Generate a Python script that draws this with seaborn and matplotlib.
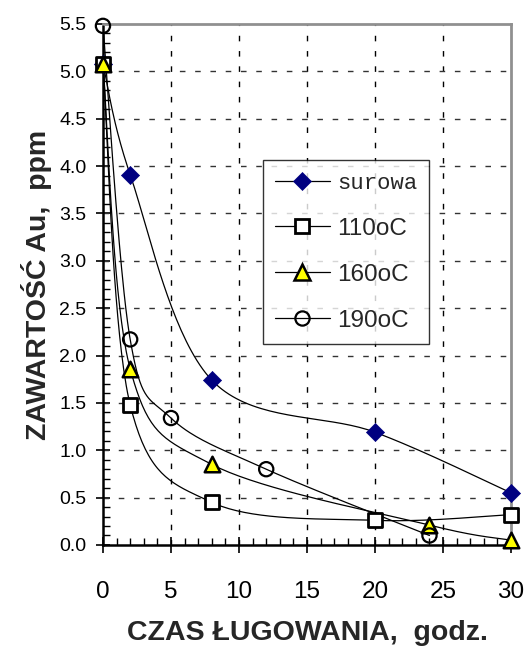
import numpy as np
import pandas as pd
import matplotlib
matplotlib.use("Agg")
import matplotlib.pyplot as plt
import seaborn as sns
from matplotlib.lines import Line2D
from matplotlib.ticker import MultipleLocator

# ---- data ----
x_surowa = [0, 2, 8, 20, 30]
y_surowa = [5.08, 3.91, 1.74, 1.19, 0.55]
x_110 = [0, 2, 8, 20, 30]
y_110 = [5.08, 1.48, 0.45, 0.26, 0.32]
x_160 = [0, 2, 8, 24, 30]
y_160 = [5.08, 1.86, 0.85, 0.21, 0.05]
x_190 = [0, 2, 5, 12, 24]
y_190 = [5.48, 2.17, 1.34, 0.80, 0.10]
labels = ["surowa", "110oC", "160oC", "190oC"]
x_ticks = [0, 5, 10, 15, 20, 25, 30]
y_ticks = [0.0, 0.5, 1.0, 1.5, 2.0, 2.5, 3.0, 3.5, 4.0, 4.5, 5.0, 5.5]

series = [
    (x_surowa, y_surowa, dict(marker="D", s=85, color="#000080", edgecolor="#000080", linewidth=0.5)),
    (x_110, y_110, dict(marker="s", s=110, color="white", edgecolor="black", linewidth=2)),
    (x_160, y_160, dict(marker="^", s=125, color="#FFFF00", edgecolor="black", linewidth=1.8)),
    (x_190, y_190, dict(marker="o", s=105, color="none", edgecolor="black", linewidth=1.6)),
]


def smooth(xs, ys, sx=408 / 30, sy=521 / 5.5, n=40):
    # Bezier (Catmull-Rom style) smoothing in screen-like coordinates, as a spreadsheet chart does
    P = np.column_stack([np.asarray(xs, float) * sx, np.asarray(ys, float) * sy])
    out = []
    m = len(P)
    for i in range(m - 1):
        p0 = P[i - 1] if i > 0 else P[i]
        p1, p2 = P[i], P[i + 1]
        p3 = P[i + 2] if i + 2 < m else P[i + 1]
        c1 = p1 + (p2 - p0) / 6.0
        c2 = p2 - (p3 - p1) / 6.0
        t = np.linspace(0, 1, n)[:, None]
        seg = ((1 - t) ** 3) * p1 + 3 * ((1 - t) ** 2) * t * c1 + 3 * (1 - t) * t ** 2 * c2 + t ** 3 * p2
        out.append(seg if i == 0 else seg[1:])
    C = np.vstack(out)
    return C[:, 0] / sx, C[:, 1] / sy


sns.set_style("white")
plt.rcParams["font.family"] = ["Liberation Sans", "DejaVu Sans"]

fig = plt.figure(figsize=(5.28, 6.48), dpi=100)
ax = fig.add_axes([0.195, 0.159, 0.773, 0.804])

for xs, ys, kw in series:
    cx, cy = smooth(xs, ys)
    df_line = pd.DataFrame({"x": cx, "y": cy})
    sns.lineplot(data=df_line, x="x", y="y", ax=ax, color="black", linewidth=0.9,
                 sort=False, estimator=None, zorder=3)
for xs, ys, kw in series:
    df_pts = pd.DataFrame({"x": xs, "y": ys})
    sns.scatterplot(data=df_pts, x="x", y="y", ax=ax, zorder=5, clip_on=False, **kw)

ax.set_xlim(0, 30)
ax.set_ylim(0, 5.5)
ax.set_xticks(x_ticks)
ax.set_yticks(y_ticks)
ax.set_xticklabels([str(v) for v in x_ticks], fontsize=17.5)
ax.set_yticklabels([f"{v:.1f}" for v in y_ticks], fontsize=14)
ax.xaxis.set_minor_locator(MultipleLocator(1))
ax.yaxis.set_minor_locator(MultipleLocator(0.1))
ax.tick_params(axis="x", which="major", direction="inout", length=12, width=1.2, pad=20, colors="black")
ax.tick_params(axis="y", which="major", direction="inout", length=10, width=1.2, pad=7, colors="black")
ax.tick_params(axis="both", which="minor", direction="in", length=5, width=1.0, colors="black")
ax.tick_params(bottom=True, left=True, which="both")

# grid: dashed at major ticks (excluding borders)
for xv in x_ticks[1:-1]:
    ax.axvline(xv, color="black", linewidth=1, dashes=(4, 7), zorder=1)
for yv in y_ticks[1:-1]:
    ax.axhline(yv, color="#333333", linewidth=1, dashes=(4, 7), zorder=1)

for s in ["left", "bottom"]:
    ax.spines[s].set_color("black")
    ax.spines[s].set_linewidth(1.8)
for s in ["top", "right"]:
    ax.spines[s].set_color("#909090")
    ax.spines[s].set_linewidth(2)

ax.set_xlabel("CZAS ŁUGOWANIA,  godz.", fontsize=20.5, fontweight="bold", labelpad=12)
ax.set_ylabel("ZAWARTOŚĆ Au,  ppm", fontsize=20.5, fontweight="bold", labelpad=5)

handles = []
for (xs, ys, kw), lab in zip(series, labels):
    mfc = kw["color"]
    handles.append(Line2D([0], [0], color="black", linewidth=0.9, marker=kw["marker"],
                          markersize=np.sqrt(kw["s"]),
                          markerfacecolor=mfc, markeredgecolor=kw["edgecolor"],
                          markeredgewidth=kw["linewidth"]))
leg = ax.legend(handles, labels, loc="upper left", bbox_to_anchor=(0.392, 0.739),
                borderaxespad=0, fontsize=17.5, labelspacing=0.98, handlelength=2.25,
                handletextpad=0.3, borderpad=0.5, frameon=True, fancybox=False)
leg.get_frame().set_edgecolor("black")
leg.get_frame().set_linewidth(1.0)
leg.get_texts()[0].set_family("Liberation Mono")
leg.get_texts()[0].set_fontsize(16)
leg.set_zorder(6)

fig.savefig("out.png", dpi=100)
